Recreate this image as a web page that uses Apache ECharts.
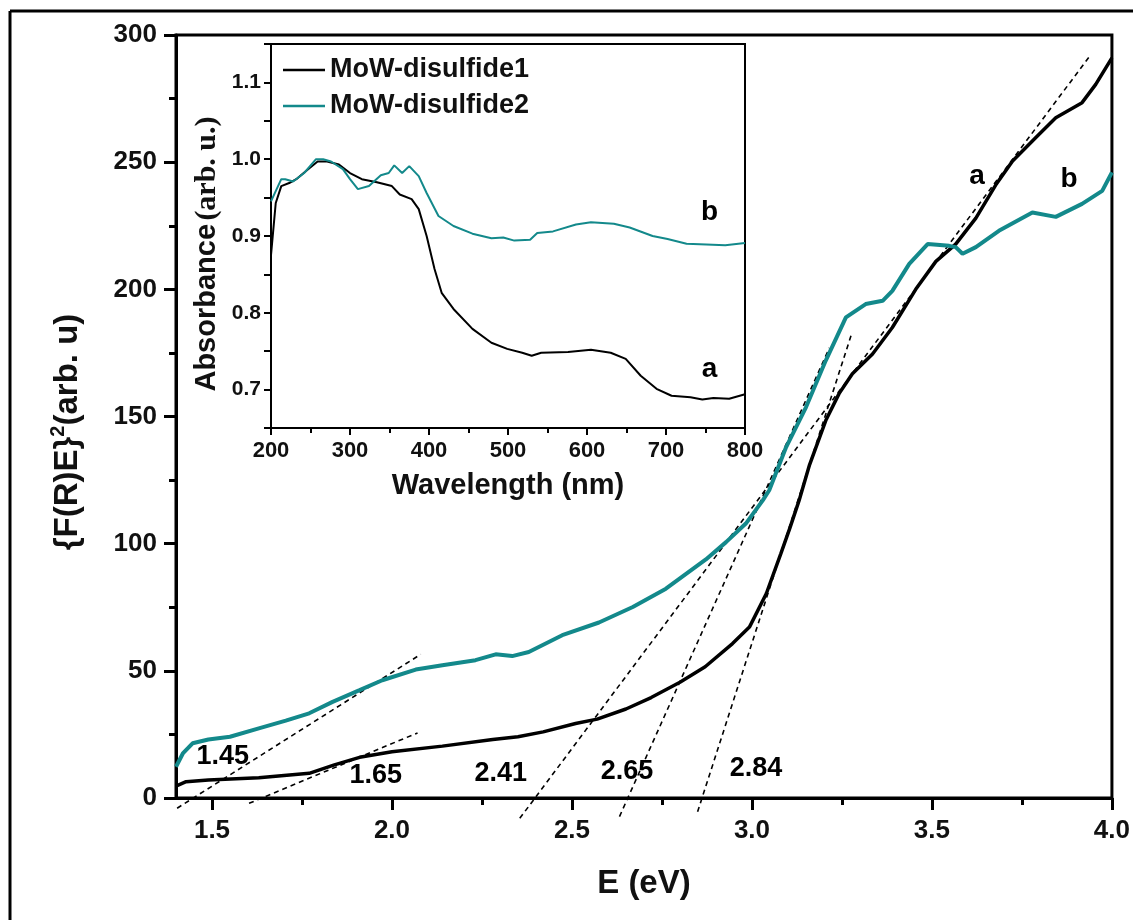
<!DOCTYPE html>
<html>
<head>
<meta charset="utf-8">
<script src="https://cdn.jsdelivr.net/npm/echarts@6/dist/echarts.min.js"></script>
<style>
  html, body { margin: 0; padding: 0; background: #fff; }
  #chart { width: 1133px; height: 920px; }
</style>
</head>
<body>
<div id="chart"></div>
<script>
// main panel: {F(R)E}^2 vs E (eV), curves
const curveA = [
  [1.40, 4.7], [1.428, 6.4], [1.49, 7.1], [1.63, 8.0], [1.77, 9.7], [1.84, 13.0],
  [1.91, 16.0], [2.00, 18.2], [2.14, 20.4], [2.28, 23.0], [2.35, 24.1], [2.42, 26.0],
  [2.51, 29.3], [2.57, 31.0], [2.65, 35.0], [2.72, 39.5], [2.80, 45.5], [2.87, 51.6],
  [2.946, 60.7], [2.993, 67.2], [3.04, 80.4], [3.08, 96], [3.105, 106], [3.131, 117],
  [3.16, 131], [3.205, 148.4], [3.242, 159], [3.279, 166.8], [3.335, 174.6],
  [3.39, 185], [3.455, 200], [3.511, 211], [3.566, 217.8], [3.622, 228], [3.677, 241],
  [3.724, 250.5], [3.788, 259.6], [3.844, 267.5], [3.917, 273.4], [3.955, 280.6], [4.0, 291]
];
const curveB = [
  [1.40, 12.3], [1.419, 17.5], [1.446, 21.5], [1.49, 23.0], [1.55, 24.1], [1.63, 27.4],
  [1.705, 30.4], [1.77, 33.3], [1.835, 37.8], [1.91, 42.4], [1.973, 46.3], [2.066, 50.5],
  [2.14, 52.2], [2.232, 54.2], [2.288, 56.5], [2.334, 55.8], [2.38, 57.4], [2.473, 64.0],
  [2.575, 69.0], [2.669, 75.1], [2.761, 82.3], [2.872, 93.8], [2.928, 100.6],
  [2.983, 107.9], [3.03, 117], [3.048, 121], [3.095, 138], [3.15, 153.6], [3.205, 172],
  [3.261, 189], [3.316, 194.2], [3.363, 195.5], [3.39, 199.4], [3.437, 210], [3.488, 217.8],
  [3.548, 217.1], [3.566, 216.6], [3.585, 214], [3.622, 216.6], [3.686, 223],
  [3.779, 230.2], [3.844, 228.5], [3.917, 233.6], [3.973, 238.7], [4.0, 246]
];
// dashed tangent lines (end points)
const tangent145 = [[1.382, -5.9], [2.08, 56.5]];
const tangent165 = [[1.603, -2.1], [2.071, 25.6]];
const tangent241 = [[2.355, -8], [3.94, 292]];
const tangent265 = [[2.632, -7.3], [3.215, 177]];
const tangent284 = [[2.849, -5.4], [3.278, 183]];
const gapLabels = [
  { name: '1.45', value: [1.53, 16.2] },
  { name: '1.65', value: [1.955, 9.0] },
  { name: '2.41', value: [2.302, 9.8] },
  { name: '2.65', value: [2.653, 10.3] },
  { name: '2.84', value: [3.011, 11.7] }
];
const curveLabels = [
  { name: 'a', value: [3.625, 244.6] },
  { name: 'b', value: [3.881, 243.4] }
];
const xTicks = [1.5, 2.0, 2.5, 3.0, 3.5, 4.0];
const xMinorTicks = [1.75, 2.25, 2.75, 3.25, 3.75];

// inset: absorbance vs wavelength
const absA = [
  [200, 0.875], [206, 0.943], [213, 0.965], [223, 0.969], [232, 0.974], [247, 0.987],
  [259, 0.997], [271, 0.997], [286, 0.993], [300, 0.982], [315, 0.974], [334, 0.970],
  [353, 0.965], [363, 0.954], [378, 0.948], [387, 0.935], [397, 0.900], [407, 0.857],
  [416, 0.826], [431, 0.805], [455, 0.779], [479, 0.761], [499, 0.753], [518, 0.748],
  [530, 0.744], [542, 0.748], [576, 0.749], [605, 0.752], [630, 0.748], [649, 0.740],
  [668, 0.718], [688, 0.701], [707, 0.692], [731, 0.690], [746, 0.687], [760, 0.689],
  [780, 0.688], [800, 0.694]
];
const absB = [
  [200, 0.945], [213, 0.974], [218, 0.974], [228, 0.971], [242, 0.982], [257, 1.0],
  [266, 1.0], [276, 0.997], [291, 0.987], [300, 0.974], [310, 0.961], [324, 0.965],
  [339, 0.979], [349, 0.982], [356, 0.992], [366, 0.982], [375, 0.991], [387, 0.978],
  [397, 0.956], [412, 0.926], [431, 0.913], [455, 0.903], [479, 0.897], [494, 0.898],
  [508, 0.894], [528, 0.895], [537, 0.904], [557, 0.906], [586, 0.915], [605, 0.918],
  [634, 0.916], [654, 0.911], [683, 0.900], [702, 0.896], [726, 0.890], [751, 0.889],
  [775, 0.888], [800, 0.891]
];
const insetLabels = [
  { name: 'b', value: [755, 0.931] },
  { name: 'a', value: [755, 0.727] }
];
const insetYLabels = [0.7, 0.8, 0.9, 1.0, 1.1];

const TEAL = '#13898b';
const FONT = '"Liberation Sans", Arial, sans-serif';
const PLOT_H = 763;

const chart = echarts.init(document.getElementById('chart'));

const dashed = (name, data) => ({
  name, type: 'line', xAxisIndex: 0, yAxisIndex: 0, data,
  symbol: 'none', clip: false, z: 3,
  lineStyle: { color: '#000', width: 1.6, type: [5, 4] }
});

const textMarks = (name, data, xi, yi, size, weight) => ({
  name, type: 'scatter', xAxisIndex: xi, yAxisIndex: yi, data,
  symbolSize: 0, silent: true, z: 7,
  itemStyle: { opacity: 1 },
  label: { show: true, position: 'inside', formatter: '{b}', fontFamily: FONT,
    fontSize: size, fontWeight: weight, color: '#000' }
});

chart.setOption({
  animation: false,
  backgroundColor: '#fff',
  grid: [
    { left: 176, top: 35, width: 937, height: PLOT_H, show: true, borderColor: '#000', borderWidth: 3, backgroundColor: 'transparent' },
    { left: 271, top: 44, width: 474, height: 384, show: true, borderColor: '#000', borderWidth: 2, backgroundColor: '#fff' }
  ],
  legend: {
    data: [
      { name: 'MoW-disulfide1', icon: 'rect' },
      { name: 'MoW-disulfide2', icon: 'rect' }
    ],
    orient: 'vertical', left: 283, top: 55, padding: 0,
    itemWidth: 42, itemHeight: 2.5, itemGap: 6,
    textStyle: { fontFamily: FONT, fontSize: 27, fontWeight: 'bold', color: '#111', lineHeight: 30 }
  },
  xAxis: [
    {
      type: 'value', gridIndex: 0, min: 1.4, max: 4.0, position: 'bottom',
      name: 'E (eV)', nameLocation: 'middle', nameGap: 69,
      nameTextStyle: { fontFamily: FONT, fontSize: 33, fontWeight: 'bold', color: '#111' },
      axisLine: { lineStyle: { color: '#000', width: 3 } },
      axisTick: { customValues: xTicks, length: 12, lineStyle: { color: '#000', width: 3 } },
      axisLabel: { customValues: xTicks, margin: 20, formatter: v => v.toFixed(1),
        fontFamily: FONT, fontSize: 26, fontWeight: 'bold', color: '#111' },
      splitLine: { show: false }
    },
    {
      // minor ticks only: a top axis shifted down onto the bottom edge, ticks pointing down
      type: 'value', gridIndex: 0, min: 1.4, max: 4.0, position: 'top', offset: -PLOT_H,
      axisLine: { show: false },
      axisTick: { customValues: xMinorTicks, inside: true, length: 7, lineStyle: { color: '#000', width: 3 } },
      axisLabel: { show: false },
      splitLine: { show: false }
    },
    {
      type: 'value', gridIndex: 1, min: 200, max: 800, interval: 100,
      name: 'Wavelength (nm)', nameLocation: 'middle', nameGap: 43,
      nameTextStyle: { fontFamily: FONT, fontSize: 29, fontWeight: 'bold', color: '#111' },
      axisLine: { lineStyle: { color: '#000', width: 2 } },
      axisTick: { length: 7, lineStyle: { color: '#000', width: 2 } },
      minorTick: { show: true, splitNumber: 2, length: 5, lineStyle: { color: '#000', width: 2 } },
      axisLabel: { margin: 12, fontFamily: FONT, fontSize: 22, fontWeight: 'bold', color: '#111' },
      splitLine: { show: false }
    }
  ],
  yAxis: [
    {
      type: 'value', gridIndex: 0, min: 0, max: 300, interval: 50,
      axisLine: { lineStyle: { color: '#000', width: 3 } },
      axisTick: { length: 12, lineStyle: { color: '#000', width: 3 } },
      minorTick: { show: true, splitNumber: 2, length: 7, lineStyle: { color: '#000', width: 3 } },
      axisLabel: { margin: 19, fontFamily: FONT, fontSize: 26, fontWeight: 'bold', color: '#111' },
      splitLine: { show: false }
    },
    {
      type: 'value', gridIndex: 1, min: 0.65, max: 1.15, interval: 0.05,
      axisLine: { lineStyle: { color: '#000', width: 2 } },
      axisTick: { length: 7, lineStyle: { color: '#000', width: 2 } },
      axisLabel: { customValues: insetYLabels, margin: 10, formatter: v => v.toFixed(1),
        fontFamily: FONT, fontSize: 21, fontWeight: 'bold', color: '#111' },
      splitLine: { show: false }
    }
  ],
  graphic: [
    { type: 'line', shape: { x1: 10, y1: 11, x2: 1133, y2: 11 }, style: { stroke: '#000', lineWidth: 3 } },
    { type: 'line', shape: { x1: 10, y1: 11, x2: 10, y2: 920 }, style: { stroke: '#000', lineWidth: 3 } },
    {
      type: 'text', x: 68, y: 432, rotation: Math.PI / 2,
      style: {
        text: '{F(R)E}{s|2}(arb. u)', align: 'center', verticalAlign: 'middle',
        font: 'bold 33px ' + FONT, fill: '#111', lineHeight: 40,
        rich: { s: { fontSize: 20, fontWeight: 'bold', fontFamily: FONT, lineHeight: 20, verticalAlign: 'top', fill: '#111' } }
      }
    },
    {
      type: 'text', x: 207, y: 254, rotation: Math.PI / 2,
      style: {
        text: '{p|Absorbance} {q|(arb. u.)}', align: 'center', verticalAlign: 'middle',
        rich: {
          p: { fontFamily: FONT, fontSize: 29, fontWeight: 'bold', fill: '#111' },
          q: { fontFamily: '"Liberation Serif", "Times New Roman", serif', fontSize: 30, fontWeight: 'bold', fill: '#111' }
        }
      }
    }
  ],
  series: [
    { name: 'a', type: 'line', xAxisIndex: 0, yAxisIndex: 0, data: curveA, symbol: 'none', z: 4,
      lineStyle: { color: '#000', width: 3.5 } },
    { name: 'b', type: 'line', xAxisIndex: 0, yAxisIndex: 0, data: curveB, symbol: 'none', z: 4,
      lineStyle: { color: TEAL, width: 4 } },
    dashed('t1.45', tangent145),
    dashed('t1.65', tangent165),
    dashed('t2.41', tangent241),
    dashed('t2.65', tangent265),
    dashed('t2.84', tangent284),
    textMarks('gapLabels', gapLabels, 0, 0, 27, 'bold'),
    textMarks('curveLabels', curveLabels, 0, 0, 28, 'bold'),
    { name: 'MoW-disulfide1', type: 'line', xAxisIndex: 2, yAxisIndex: 1, data: absA, symbol: 'none', z: 6,
      itemStyle: { color: '#000' }, lineStyle: { color: '#000', width: 2 } },
    { name: 'MoW-disulfide2', type: 'line', xAxisIndex: 2, yAxisIndex: 1, data: absB, symbol: 'none', z: 6,
      itemStyle: { color: TEAL }, lineStyle: { color: TEAL, width: 2 } },
    textMarks('insetLabels', insetLabels, 2, 1, 28, 'bold')
  ]
});
</script>
</body>
</html>
